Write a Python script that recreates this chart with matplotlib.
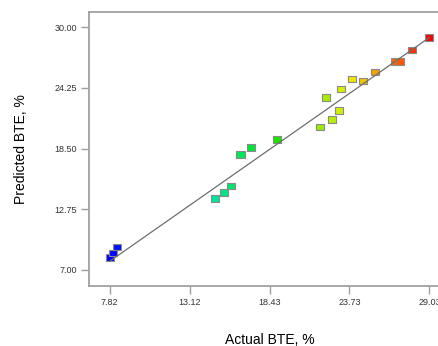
import matplotlib
matplotlib.use("Agg")
import matplotlib.pyplot as plt
import numpy as np
from matplotlib.colors import LinearSegmentedColormap
from matplotlib.path import Path

plt.rcParams['font.family'] = ['Liberation Sans', 'DejaVu Sans']

# Actual vs predicted brake thermal efficiency (%)
actual_bte = [7.82, 8.06, 8.28, 14.82, 15.39, 15.90, 16.50, 17.18, 18.91,
              21.78, 22.15, 22.55, 23.04, 23.17, 23.90, 24.65, 25.45,
              26.77, 27.06, 27.90, 29.03]
predicted_bte = [8.18, 8.60, 9.17, 13.77, 14.31, 14.97, 17.97, 18.60, 19.39,
                 20.56, 23.33, 21.29, 22.10, 24.16, 25.10, 24.91, 25.77,
                 26.78, 26.78, 27.85, 29.02]
x_ticks = [7.82, 13.12, 18.43, 23.73, 29.03]
y_ticks = [7.00, 12.75, 18.50, 24.25, 30.00]

x = np.array(actual_bte)
y = np.array(predicted_bte)

cmap = LinearSegmentedColormap.from_list(
    "bte", ["#0000ff", "#00e6e6", "#00e600", "#f0f000", "#ff0000"])
colors = cmap((x - x.min()) / (x.max() - x.min()))

fig = plt.figure(figsize=(4.38, 3.46), dpi=100)
ax = fig.add_axes([89 / 438, 1 - 285.7 / 346, (450 - 89) / 438, (285.7 - 12.3) / 346])

# slightly wide rectangular marker
rect = Path([(-0.6, -0.5), (0.6, -0.5), (0.6, 0.5), (-0.6, 0.5), (-0.6, -0.5)],
            [Path.MOVETO, Path.LINETO, Path.LINETO, Path.LINETO, Path.CLOSEPOLY])
ax.scatter(x, y, s=34, marker=rect, c=colors, edgecolors="#8a8a8a",
           linewidths=0.8, zorder=2)

# y = x reference line
lo, hi = x.min(), x.max()
ax.plot([lo, hi], [lo, hi], color="#6e6e6e", linewidth=0.9, zorder=3)

ax.set_xlim(6.45, 30.40)
ax.set_ylim(5.51, 31.42)
ax.set_xticks(x_ticks)
ax.set_xticklabels([f"{v:.2f}" for v in x_ticks])
ax.set_yticks(y_ticks)
ax.set_yticklabels([f"{v:.2f}" for v in y_ticks])

spine_color = "#a0a0a0"
for side in ["left", "bottom", "top", "right"]:
    ax.spines[side].set_color(spine_color)
    ax.spines[side].set_linewidth(1.3)
ax.tick_params(axis="both", direction="out", length=6, width=1.0,
               color=spine_color, labelsize=6.5, labelcolor="#333333", pad=2.5)

ax.set_xlabel("Actual BTE, %", fontsize=10, labelpad=19)
ax.set_ylabel("Predicted BTE, %", fontsize=10, labelpad=19)

fig.savefig("out.png", dpi=100)
